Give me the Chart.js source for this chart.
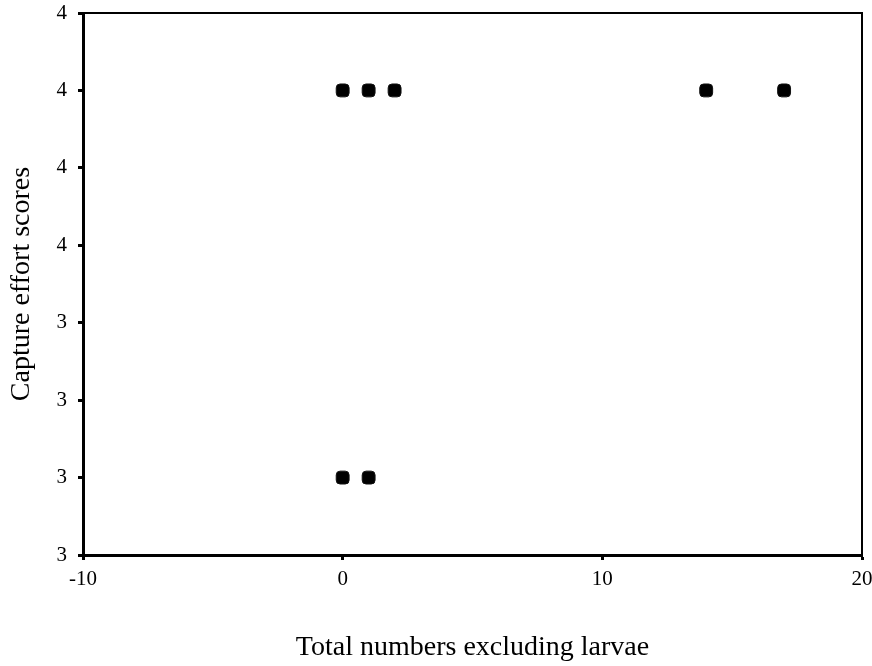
<!DOCTYPE html>
<html>
<head>
<meta charset="utf-8">
<script src="https://cdn.jsdelivr.net/npm/chart.js@4"></script>
<style>
html,body{margin:0;padding:0;background:#fff;}
#wrap{width:872px;height:666px;}
</style>
</head>
<body>
<div id="wrap"><canvas id="c" width="872" height="666"></canvas></div>
<script>
const xValues = [0, 1, 2, 14, 17, 0, 1];
const yValues = [3.7, 3.7, 3.7, 3.7, 3.7, 3.2, 3.2];
const xTicks = [-10, 0, 10, 20];
const yMin = 3.1, yMax = 3.8, yStep = 0.1;
const xTitle = 'Total numbers excluding larvae';
const yTitle = 'Capture effort scores';

const points = xValues.map((x, i) => ({x: x, y: yValues[i]}));

const frame = {
  id: 'frame',
  afterDraw(chart) {
    const a = chart.chartArea, ctx = chart.ctx;
    ctx.save();
    ctx.strokeStyle = '#000';
    ctx.lineWidth = 2;
    ctx.beginPath();
    ctx.moveTo(a.left, a.top);
    ctx.lineTo(a.right, a.top);
    ctx.lineTo(a.right, a.bottom);
    ctx.stroke();
    ctx.restore();
  }
};

new Chart(document.getElementById('c'), {
  type: 'scatter',
  data: {
    datasets: [{
      data: points,
      pointStyle: 'rectRounded',
      pointRadius: 7.5,
      backgroundColor: '#000',
      borderColor: '#111',
      borderWidth: 1
    }]
  },
  options: {
    responsive: false,
    animation: false,
    layout: {padding: {left: 0, top: 13, right: 10, bottom: 0}},
    plugins: {legend: {display: false}, tooltip: {enabled: false}},
    scales: {
      x: {
        type: 'linear',
        min: xTicks[0], max: xTicks[xTicks.length - 1],
        afterBuildTicks(s) { s.ticks = xTicks.map(v => ({value: v})); },
        grid: {drawOnChartArea: false, drawTicks: true, tickLength: 5, tickWidth: 3, tickColor: '#000'},
        border: {display: true, color: '#000', width: 3},
        ticks: {color: '#000', font: {family: 'Liberation Serif', size: 21}, padding: 7, maxRotation: 0},
        title: {display: true, text: xTitle, color: '#000', font: {family: 'Liberation Serif', size: 28}, padding: {top: 45, bottom: 2}},
        afterFit(s) { s.height = 111; s.paddingLeft = 0; s.paddingRight = 0; }
      },
      y: {
        type: 'linear',
        min: yMin, max: yMax,
        ticks: {stepSize: yStep, color: '#000', font: {family: 'Liberation Serif', size: 21}, padding: 11,
          callback: v => String(Math.round(v))},
        grid: {drawOnChartArea: false, drawTicks: true, tickLength: 5, tickWidth: 3, tickColor: '#000'},
        border: {display: true, color: '#000', width: 3},
        title: {display: true, text: yTitle, color: '#000', font: {family: 'Liberation Serif', size: 28}, padding: {top: 5, bottom: 18}},
        afterFit(s) { s.width = 83; s.paddingTop = 0; s.paddingBottom = 0; }
      }
    }
  },
  plugins: [frame]
});
</script>
</body>
</html>
